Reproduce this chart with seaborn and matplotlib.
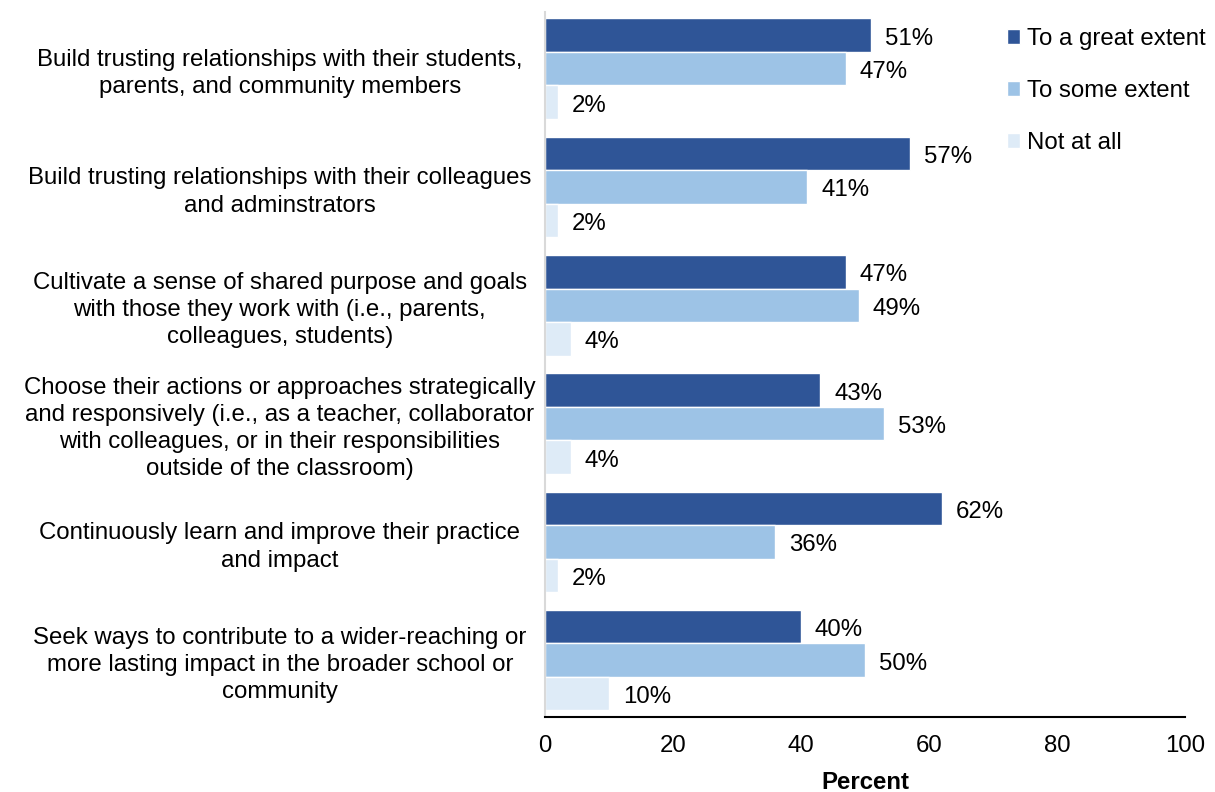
import matplotlib
matplotlib.use("Agg")
import matplotlib.pyplot as plt
import seaborn as sns
import pandas as pd

categories = [
    "Build trusting relationships with their students,\nparents, and community members",
    "Build trusting relationships with their colleagues\nand adminstrators",
    "Cultivate a sense of shared purpose and goals\nwith those they work with (i.e., parents,\ncolleagues, students)",
    "Choose their actions or approaches strategically\nand responsively (i.e., as a teacher, collaborator\nwith colleagues, or in their responsibilities\noutside of the classroom)",
    "Continuously learn and improve their practice\nand impact",
    "Seek ways to contribute to a wider-reaching or\nmore lasting impact in the broader school or\ncommunity",
]
series = ["To a great extent", "To some extent", "Not at all"]
great_extent = [51, 57, 47, 43, 62, 40]
some_extent = [47, 41, 49, 53, 36, 50]
not_at_all = [2, 2, 4, 4, 2, 10]
colors = ["#2F5597", "#9DC3E6", "#DEEBF7"]

rows = []
for vals, name in zip([great_extent, some_extent, not_at_all], series):
    for cat, v in zip(categories, vals):
        rows.append({"Item": cat, "Response": name, "Percent": v})
df = pd.DataFrame(rows)

sns.set_theme(style="white")
plt.rcParams["font.family"] = ["Liberation Sans", "DejaVu Sans"]
FS = 17.3

fig = plt.figure(figsize=(12.15, 7.92), dpi=100)
ax = fig.add_axes([0.4486, 0.0947, 0.5267, 0.8903])

sns.barplot(data=df, y="Item", x="Percent", hue="Response", order=categories,
            hue_order=series, palette=colors, orient="h", width=0.85,
            saturation=1, ax=ax, legend=True, errorbar=None)

for container in ax.containers:
    anns = ax.bar_label(container, labels=[f"{int(v)}%" for v in container.datavalues],
                        padding=10, fontsize=FS, color="black")
    for a in anns:
        a.xyann = (10, -2.5)

ax.set_xlim(0, 100)
ax.set_ylim(5.48, -0.48)
ax.set_xticks([0, 20, 40, 60, 80, 100])
ax.tick_params(axis="x", labelsize=FS, length=0, pad=13, colors="black")
ax.tick_params(axis="y", labelsize=FS, length=0, pad=191, colors="black")
for lbl in ax.get_yticklabels():
    lbl.set_horizontalalignment("center")
    lbl.set_linespacing(1.3)
ax.set_xlabel("Percent", fontsize=FS, fontweight="bold", labelpad=10, color="black")
ax.set_ylabel("")

for side in ["top", "right"]:
    ax.spines[side].set_visible(False)
ax.spines["left"].set_color("#D9D9D9")
ax.spines["left"].set_linewidth(1.5)
ax.spines["bottom"].set_color("black")
ax.spines["bottom"].set_linewidth(1.5)

leg = ax.legend(loc="upper left", bbox_to_anchor=(0.811, 0.992), bbox_transform=fig.transFigure,
                frameon=False, fontsize=FS, handlelength=0.55, handleheight=0.55,
                handletextpad=0.3, labelspacing=1.25)
for t in leg.get_texts():
    t.set_color("black")

fig.savefig("out.png", dpi=100)
